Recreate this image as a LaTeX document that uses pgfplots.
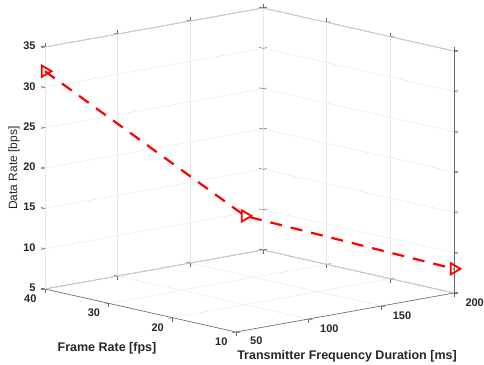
\documentclass[border=0pt]{standalone}
\usepackage{fontspec}
\setmainfont{Liberation Sans}
\usepackage{pgfplots}
\pgfplotsset{compat=1.18}
\begin{document}
\begin{tikzpicture}
\begin{axis}[
  x={(1.4533pt,0.26pt)},
  y={(-6.367pt,1.433pt)},
  z={(0pt,8.067pt)},
  disabledatascaling,
  xmin=50, xmax=200,
  ymin=10, ymax=40,
  zmin=5, zmax=35,
  xtick={50,100,150,200},
  ytick={10,20,30,40},
  ztick={5,10,15,20,25,30,35},
  grid=major,
  major grid style={gray!18, line width=0.5pt},
  axis line style={gray!80!black, line width=0.6pt},
  tick style={gray!80!black, line width=0.5pt},
  tick align=outside,
  major tick length=4pt,
  /pgf/number format/assume math mode=true,
  ticklabel style={font=\fontsize{11}{13}\selectfont\bfseries, text=black!85},
  xticklabel style={xshift=10pt},
  yticklabel style={xshift=-4pt, yshift=-1pt},
  zticklabel style={xshift=-2pt},
  label style={font=\fontsize{12.5}{14}\selectfont\bfseries, text=black!85},
  xlabel={Transmitter Frequency Duration [ms]},
  xlabel style={at={(axis cs:125,10,5)}, anchor=center, xshift=2pt, yshift=-43.5pt},
  ylabel={Frame Rate [fps]},
  ylabel style={at={(axis cs:50,25,5)}, anchor=center, xshift=-33.5pt, yshift=-37.5pt},
  zlabel={Data Rate [bps]},
  zlabel style={font=\fontsize{12}{14}\selectfont, at={(axis cs:50,40,20)}, anchor=center, yshift=31pt},
  clip=false,
]
\addplot3[red, line width=2.2pt, dash pattern=on 12pt off 9pt,
  mark=triangle, mark size=6.5pt,
  mark options={solid, rotate=-90, fill=none, line width=1.8pt}]
  coordinates {(50,40,32) (100,20,16) (200,10,8)};
\coordinate (B) at (axis cs:50,10,5);
\end{axis}
\pgfresetboundingbox
\path[use as bounding box] ([shift={(-236pt,332pt)}]B) rectangle ([shift={(248pt,-32pt)}]B);
\end{tikzpicture}
\end{document}
